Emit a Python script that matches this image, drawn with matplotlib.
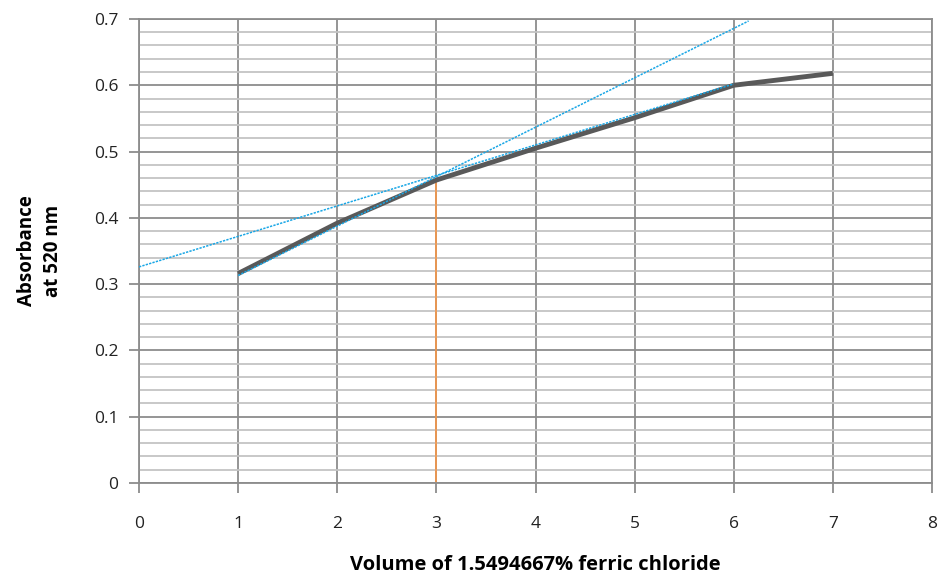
import matplotlib.pyplot as plt
from matplotlib.ticker import MultipleLocator, FuncFormatter

# measured absorbance
volume = [1, 2, 3, 4, 5, 6, 7]
absorbance = [0.316, 0.392, 0.457, 0.505, 0.551, 0.600, 0.618]

# tangent lines (end points)
steep_x = [1, 6.15]
steep_y = [0.313, 0.697]
shallow_x = [0, 6]
shallow_y = [0.326, 0.602]

# marker at the intersection
mark_x = [3, 3]
mark_y = [0, 0.457]

plt.rcParams['font.family'] = ['Open Sans', 'DejaVu Sans']

fig = plt.figure(figsize=(9.38, 5.82), dpi=100)
ax = fig.add_axes([0.1482, 0.1701, 0.8454, 0.7973])

ax.plot(volume, absorbance, color='#595959', lw=3.5, solid_capstyle='butt', zorder=3)
ax.plot(steep_x, steep_y, color='#1aa7e6', lw=1.1, ls=(0, (1.5, 0.8)), zorder=4)
ax.plot(shallow_x, shallow_y, color='#1aa7e6', lw=1.1, ls=(0, (1.5, 0.8)), zorder=4)
ax.plot(mark_x, mark_y, color='#f79646', lw=1.2, zorder=2)

ax.set_xlim(0, 8)
ax.set_ylim(0, 0.7)
ax.xaxis.set_major_locator(MultipleLocator(1))
ax.yaxis.set_major_locator(MultipleLocator(0.1))
ax.yaxis.set_minor_locator(MultipleLocator(0.02))
ax.yaxis.set_major_formatter(FuncFormatter(lambda v, p: '0' if abs(v) < 1e-9 else f'{v:.1f}'))

ax.grid(which='major', color='#8c8c8c', lw=1.3)
ax.grid(which='minor', axis='y', color='#c4c4c4', lw=1.3)
ax.set_axisbelow(True)
for s in ax.spines.values():
    s.set_color('#8c8c8c')
    s.set_linewidth(1.3)

ax.tick_params(which='major', length=7, width=1.3, color='#8c8c8c',
               labelsize=12.5, labelcolor='#222222', pad=8)
ax.tick_params(which='minor', length=0)
ax.tick_params(axis='x', pad=17)

ax.set_xlabel('Volume of 1.5494667% ferric chloride', fontsize=14.5, fontweight='bold', labelpad=16)
ax.set_ylabel('Absorbance\nat 520 nm', fontsize=13.5, fontweight='bold', labelpad=22,
              linespacing=1.4)

fig.savefig('out.png', dpi=100)
